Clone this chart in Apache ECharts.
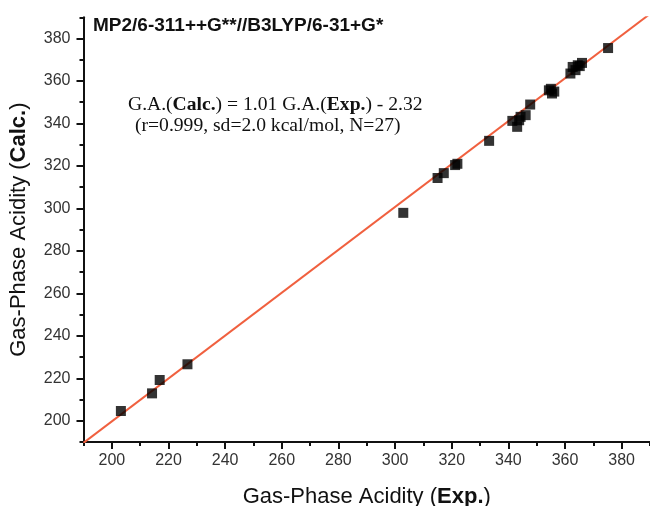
<!DOCTYPE html>
<html>
<head>
<meta charset="utf-8">
<script src="https://cdn.jsdelivr.net/npm/echarts@6/dist/echarts.min.js"></script>
<style>
  html, body { margin: 0; padding: 0; background: #fff; }
  #chart { width: 650px; height: 506px; }
</style>
</head>
<body>
<div id="chart"></div>
<script>
const expVals = [203.2, 214.2, 216.9, 226.7, 302.9, 315.0, 317.2, 321.2, 322.0, 333.2,
                 341.4, 343.1, 344.3, 346.1, 347.7, 354.3, 355.4, 355.0, 356.2, 361.9,
                 362.7, 363.7, 364.5, 366.0, 365.2, 375.2, 343.8]
const calcVals = [204.6, 212.9, 219.2, 226.6, 297.9, 314.3, 316.6, 320.4, 321.0, 331.8,
                  341.2, 338.4, 343.1, 343.9, 348.9, 355.6, 354.1, 356.3, 355.0, 363.5,
                  366.6, 365.1, 367.4, 368.5, 367.0, 375.5, 341.5]

// fitted line end points: G.A.(Calc.) = 1.01 G.A.(Exp.) - 2.32
const fitLine = [[190, 189.58], [390, 391.58]]

const axisMin = 190
const axisMax = 390
const majorTicks = [200, 220, 240, 260, 280, 300, 320, 340, 360, 380]
const minorTicks = [190, 210, 230, 250, 270, 290, 310, 330, 350, 370, 390]

const points = expVals.map((x, i) => [x, calcVals[i]])

const chart = echarts.init(document.getElementById('chart'))

const nameStyle = {
    fontFamily: 'Liberation Sans',
    fontSize: 22,
    color: '#111',
    rich: {
        n: { fontFamily: 'Liberation Sans', fontSize: 22, color: '#111' },
        b: { fontFamily: 'Liberation Sans', fontSize: 22, color: '#111', fontWeight: 'bold' }
    }
}

function mainAxis(extra) {
    return Object.assign({
        type: 'value',
        min: axisMin,
        max: axisMax,
        interval: 10,
        axisLine: { show: true, onZero: false, lineStyle: { color: '#111', width: 2 } },
        axisTick: { show: true, inside: false, length: 7, customValues: majorTicks, lineStyle: { color: '#111', width: 2 } },
        splitLine: { show: false },
        nameLocation: 'middle',
        nameTextStyle: nameStyle
    }, extra)
}

// second axis only for the short ticks between the labelled ones
function minorAxis(extra) {
    return Object.assign({
        type: 'value',
        min: axisMin,
        max: axisMax,
        interval: 10,
        offset: 0,
        axisLine: { show: false },
        axisTick: { show: true, inside: false, length: 4, customValues: minorTicks, lineStyle: { color: '#111', width: 2 } },
        axisLabel: { show: false },
        splitLine: { show: false }
    }, extra)
}

chart.setOption({
    animation: false,
    backgroundColor: '#fff',
    grid: { left: 83.5, right: 0, top: 17.25, bottom: 64, containLabel: false, outerBoundsMode: 'none' },
    title: {
        text: 'MP2/6-311++G**//B3LYP/6-31+G*',
        left: 88,
        top: 11,
        textStyle: { fontFamily: 'Liberation Sans', fontSize: 19, fontWeight: 'bold', color: '#111' }
    },
    graphic: [
        {
            type: 'text',
            left: 128,
            top: 95,
            style: {
                text: '{n|G.A.(}{b|Calc.}{n|) = 1.01 G.A.(}{b|Exp.}{n|) - 2.32}',
                rich: {
                    n: { fontFamily: 'Liberation Serif', fontSize: 19.6, fill: '#111' },
                    b: { fontFamily: 'Liberation Serif', fontSize: 19.6, fill: '#111', fontWeight: 'bold' }
                }
            }
        },
        {
            type: 'text',
            left: 135,
            top: 116,
            style: {
                text: '(r=0.999, sd=2.0 kcal/mol, N=27)',
                fontFamily: 'Liberation Serif',
                fontSize: 19.6,
                fill: '#111'
            }
        }
    ],
    xAxis: [
        mainAxis({
            position: 'bottom',
            name: '{n|Gas-Phase Acidity (}{b|Exp.}{n|)}',
            nameGap: 44,
            axisLabel: { color: '#333', fontFamily: 'Liberation Sans', fontSize: 16, margin: 11, customValues: majorTicks }
        }),
        minorAxis({ position: 'bottom' })
    ],
    yAxis: [
        mainAxis({
            position: 'left',
            name: '{n|Gas-Phase Acidity (}{b|Calc.}{n|)}',
            nameGap: 54,
            nameRotate: 90,
            axisLabel: { color: '#333', fontFamily: 'Liberation Sans', fontSize: 16, margin: 13, customValues: majorTicks }
        }),
        minorAxis({ position: 'left' })
    ],
    series: [
        {
            type: 'line',
            data: fitLine,
            symbol: 'none',
            clip: true,
            lineStyle: { color: '#f0603f', width: 2 },
            silent: true,
            z: 1
        },
        {
            type: 'scatter',
            data: points,
            symbol: 'rect',
            symbolSize: 10,
            itemStyle: { color: '#000' },
            z: 2
        }
    ]
})
</script>
</body>
</html>
